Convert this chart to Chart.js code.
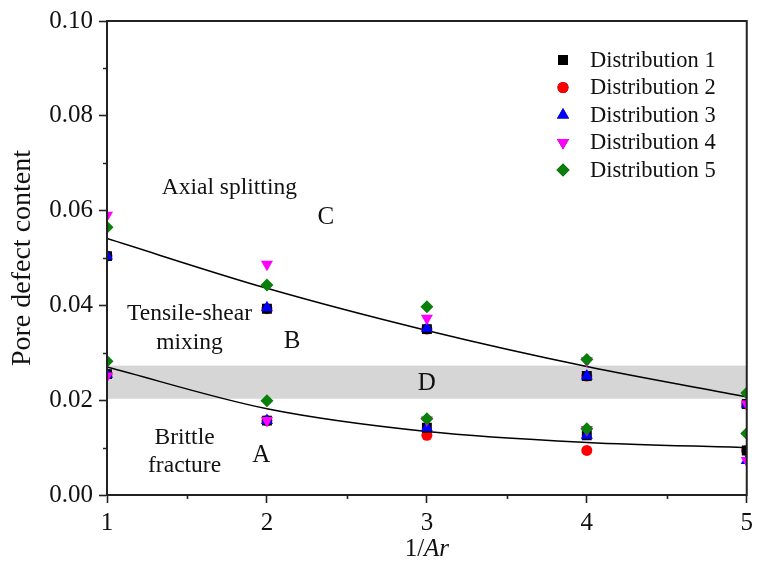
<!DOCTYPE html>
<html><head><meta charset="utf-8">
<script src="https://cdn.jsdelivr.net/npm/chart.js@4.4.1/dist/chart.umd.min.js"></script>
<style>html,body{margin:0;padding:0;background:#fff;} #wrap{width:758px;height:581px;}</style>
</head><body><div id="wrap"><canvas id="c" width="758" height="581"></canvas></div>
<script>
// ---- data ----
const xValues = [1, 2, 3, 4, 5];
const seriesNames = ['Distribution 1', 'Distribution 2', 'Distribution 3', 'Distribution 4', 'Distribution 5'];
const dist1Upper = [0.0504, 0.0393, 0.0350, 0.0251, 0.0192];
const dist1Lower = [0.0255, 0.0157, 0.0142, 0.0126, 0.0094];
const dist2Upper = [0.0504, 0.0393, 0.0350, 0.0251, 0.0192];
const dist2Lower = [0.0255, 0.0157, 0.0126, 0.0094, 0.0094];
const dist3Upper = [0.0504, 0.0395, 0.0352, 0.0251, 0.0192];
const dist3Lower = [0.0255, 0.0157, 0.0142, 0.0126, 0.0073];
const dist4Upper = [0.0590, 0.0487, 0.0373, 0.0283, 0.0192];
const dist4Lower = [0.0251, 0.0157, 0.0158, 0.0138, 0.0073];
const dist5Upper = [0.0565, 0.0443, 0.0397, 0.0286, 0.0215];
const dist5Lower = [0.0282, 0.0199, 0.0161, 0.0140, 0.0130];
const fitUpper = [0.0541, 0.0436, 0.0347, 0.0271, 0.0207];
const fitLower = [0.0270, 0.0182, 0.0134, 0.0111, 0.0100];
const bandRange = [0.0203, 0.0273];
const yTickValues = [0, 0.02, 0.04, 0.06, 0.08, 0.10];
const xTickValues = [1, 2, 3, 4, 5];
const regionLabels = ['Axial splitting', 'C', 'Tensile-shear', 'mixing', 'B', 'D', 'Brittle', 'fracture', 'A'];
const regionX = [1.765, 2.369, 1.516, 1.516, 2.157, 3.0, 1.485, 1.485, 1.964];
const regionY = [0.0649, 0.0586, 0.0383, 0.0320, 0.0324, 0.0236, 0.0121, 0.0061, 0.0084];

// ---- styles ----
const SERIF = '"Liberation Serif", "Times New Roman", serif';
const styles = [
  {color: '#000000', pointStyle: 'rect', radius: 7, rotation: 0, order: 4},
  {color: '#ff0000', pointStyle: 'circle', radius: 5.5, rotation: 0, order: 5},
  {color: '#0000ff', pointStyle: 'triangle', radius: 7, rotation: 0, order: 3},
  {color: '#ff00ff', pointStyle: 'triangle', radius: 7, rotation: 180, order: 2},
  {color: '#0a800a', pointStyle: 'rectRot', radius: 6.5, rotation: 0, order: 1}
];
const uppers = [dist1Upper, dist2Upper, dist3Upper, dist4Upper, dist5Upper];
const lowers = [dist1Lower, dist2Lower, dist3Lower, dist4Lower, dist5Lower];

function pts(xs, ys) { return xs.map((x, i) => ({x: x, y: ys[i]})); }

const datasets = [];
seriesNames.forEach((name, k) => {
  const s = styles[k];
  datasets.push({
    label: name,
    data: pts(xValues, uppers[k]).concat(pts(xValues, lowers[k])),
    backgroundColor: s.color, borderColor: s.color, borderWidth: 0,
    pointStyle: s.pointStyle, pointRadius: s.radius, pointRotation: s.rotation,
    pointHoverRadius: s.radius,
    order: s.order, clip: 0
  });
});
[fitUpper, fitLower].forEach((arr, k) => {
  datasets.push({
    label: k ? 'fitLower' : 'fitUpper',
    data: pts(xValues, arr), showLine: true, borderColor: '#000', borderWidth: 1.5,
    pointRadius: 0, cubicInterpolationMode: 'monotone', fill: false, order: 10, clip: 0
  });
});

const decor = {
  id: 'decor',
  beforeDatasetsDraw(chart) {
    const {ctx, chartArea: a, scales: {y}} = chart;
    const t = y.getPixelForValue(bandRange[1]), b = y.getPixelForValue(bandRange[0]);
    ctx.save();
    ctx.fillStyle = '#d6d6d6';
    ctx.fillRect(a.left, t, a.right - a.left, b - t);
    ctx.restore();
  },
  afterDatasetsDraw(chart) {
    const {ctx, chartArea: a, scales: {x, y}} = chart;
    ctx.save();
    // frame
    ctx.strokeStyle = '#222'; ctx.lineWidth = 2;
    ctx.strokeRect(a.left, a.top, a.right - a.left, a.bottom - a.top);
    // minor ticks
    ctx.lineWidth = 1.6;
    ctx.beginPath();
    for (let v = 0.01; v < 0.1; v += 0.02) {
      const py = Math.round(y.getPixelForValue(v)) + 0.5;
      ctx.moveTo(a.left - 4, py); ctx.lineTo(a.left, py);
    }
    for (let v = 1.5; v < 5; v += 1) {
      const px = Math.round(x.getPixelForValue(v)) + 0.5;
      ctx.moveTo(px, a.bottom); ctx.lineTo(px, a.bottom + 4);
    }
    ctx.stroke();
    // region labels
    ctx.fillStyle = '#111';
    ctx.textAlign = 'center'; ctx.textBaseline = 'middle';
    regionLabels.forEach((txt, i) => {
      ctx.font = (txt.length === 1 ? '25px ' : '23.5px ') + SERIF;
      ctx.fillText(txt, x.getPixelForValue(regionX[i]), y.getPixelForValue(regionY[i]));
    });
    // legend
    ctx.textAlign = 'left';
    ctx.font = '22.5px ' + SERIF;
    seriesNames.forEach((name, k) => {
      const yy = 60 + k * 27.5;
      const s = styles[k];
      Chart.helpers.drawPoint(ctx, {pointStyle: s.pointStyle, radius: s.radius, rotation: s.rotation, borderWidth: 0}, 563, yy);
      ctx.fillStyle = s.color; ctx.fill();
      ctx.fillStyle = '#111';
      ctx.fillText(name, 590, yy + 1);
    });
    // x title: 1/Ar (Ar italic)
    ctx.font = '25px ' + SERIF;
    const w1 = ctx.measureText('1/').width;
    ctx.font = 'italic 25px ' + SERIF;
    const w2 = ctx.measureText('Ar').width;
    const cx = (a.left + a.right) / 2, ty = 549;
    let sx = cx - (w1 + w2) / 2;
    ctx.font = '25px ' + SERIF;
    ctx.fillText('1/', sx, ty);
    ctx.font = 'italic 25px ' + SERIF;
    ctx.fillText('Ar', sx + w1, ty);
    ctx.restore();
  }
};

new Chart(document.getElementById('c'), {
  type: 'scatter',
  data: {datasets: datasets},
  options: {
    responsive: false, animation: false, devicePixelRatio: 1,
    layout: {padding: {left: 0, top: 17, right: 10, bottom: 0}},
    plugins: {legend: {display: false}, tooltip: {enabled: false}},
    scales: {
      x: {
        type: 'linear', min: 1, max: 5,
        afterBuildTicks: (s) => { s.ticks = xTickValues.map(v => ({value: v})); },
        afterFit: (s) => { s.height = 86; },
        grid: {drawOnChartArea: false, drawTicks: true, tickLength: 8, tickWidth: 1.6, tickColor: '#222'},
        border: {display: true, color: '#222', width: 2},
        ticks: {color: '#111', font: {family: SERIF, size: 25}, padding: 5, maxRotation: 0,
          callback: (v) => String(v)},
        title: {display: false}
      },
      y: {
        type: 'linear', min: 0, max: 0.1,
        afterBuildTicks: (s) => { s.ticks = yTickValues.map(v => ({value: v})); },
        afterFit: (s) => { s.width = 107; },
        grid: {drawOnChartArea: false, drawTicks: true, tickLength: 8, tickWidth: 1.6, tickColor: '#222'},
        border: {display: true, color: '#222', width: 2},
        ticks: {color: '#111', font: {family: SERIF, size: 25}, padding: 6,
          callback: (v) => Number(v).toFixed(2)},
        title: {display: true, text: 'Pore defect content', color: '#111',
          font: {family: SERIF, size: 28}, padding: {top: 6, bottom: 0}}
      }
    }
  },
  plugins: [decor]
});
</script></body></html>
